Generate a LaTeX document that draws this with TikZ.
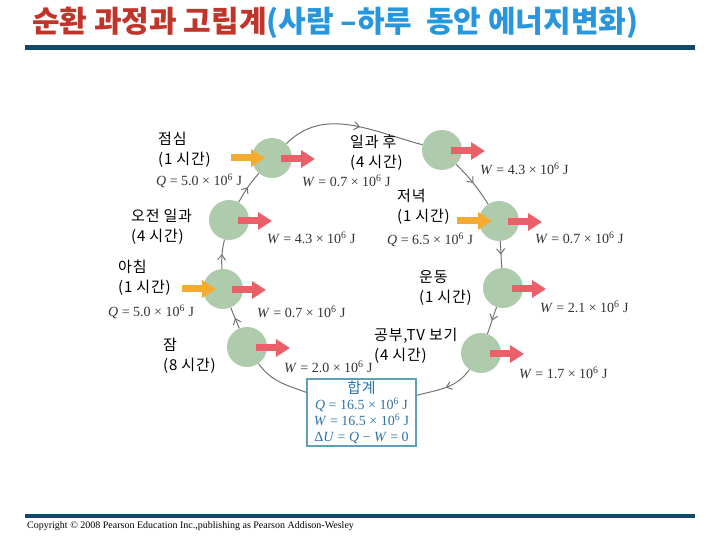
\documentclass[tikz,border=0pt]{standalone}
\usepackage{fontspec}
\setmainfont{Liberation Serif}
\newfontfamily\kr[LetterSpace=5]{Noto Sans CJK KR}
\newfontfamily\krtitle{Noto Sans CJK KR}
\usetikzlibrary{arrows.meta,decorations.markings}
\definecolor{sage}{RGB}{174,204,172}
\definecolor{wred}{RGB}{235,95,105}
\definecolor{qorange}{RGB}{245,170,50}
\definecolor{loopgray}{RGB}{115,115,115}
\definecolor{navyline}{RGB}{18,72,105}
\definecolor{titlered}{RGB}{192,52,42}
\definecolor{titleblue}{RGB}{40,150,220}
\definecolor{sumblue}{RGB}{45,115,170}
\definecolor{sumframe}{RGB}{95,160,185}
\newcommand\energy[2]{\textit{#1} = #2 × 10\textsuperscript{6} J}

\begin{document}
\begin{tikzpicture}[x=1pt,y=1pt,
    state/.style={circle,fill=sage,minimum size=40pt,inner sep=0pt},
    cyc/.style={draw=loopgray,line width=1pt},
    midarrow/.style={postaction={decorate},decoration={markings,
      mark=at position #1 with {\arrow[loopgray]{Straight Barb[length=5pt,width=8pt]}}}},
    midarrow/.default=0.5,
    warr/.style={draw=wred,line width=7pt,-{Triangle[length=14pt,width=17pt]}},
    qarr/.style={draw=qorange,line width=7pt,-{Triangle[length=14pt,width=17pt]}},
    act/.style={anchor=west,align=left,inner sep=0pt,font=\kr\fontsize{15}{20}\selectfont},
    val/.style={anchor=west,inner sep=0pt,text=black!80,font=\fontsize{14}{15}\selectfont}]
    \useasboundingbox (0,0) rectangle (720,540);

    \node[anchor=west,inner sep=0pt,font=\krtitle\bfseries\fontsize{30}{32}\selectfont] (title) at (32,517)
      {\textcolor{titlered}{순환 과정과 고립계}\textcolor{titleblue}{(사람 –하루\ \ 동안 에너지변화)}};
    \draw[navyline,line width=5pt] (25,492.5) -- (695,492.5);
    \draw[navyline,line width=4.5pt] (25,24) -- (695,24);
    \node[anchor=west,inner sep=0pt,font=\fontsize{10}{11}\selectfont] (copy) at (27,14)
      {Copyright © 2008 Pearson Education Inc.,publishing as Pearson Addison-Wesley};

    \node[state] (sleep) at (247,193) {};
    \node[state] (morning) at (223,251) {};
    \node[state] (work) at (229,320) {};
    \node[state] (lunch) at (272,382) {};
    \node[state] (afterwork) at (442,390) {};
    \node[state] (dinner) at (499,319) {};
    \node[state] (exercise) at (503,252) {};
    \node[state] (study) at (481,187) {};

    \node[draw=sumframe,line width=1.2pt,minimum width=109pt,minimum height=67pt,
      inner sep=0pt,align=center,text=sumblue,font=\fontsize{14}{16}\selectfont] (total) at (361.5,127.5)
      {{\kr\fontsize{15}{17}\selectfont 합계}\\ \energy{Q}{16.5}\\ \energy{W}{16.5}\\
       Δ\textit{U} = \textit{Q} − \textit{W} = 0};
    \coordinate (tin) at ([yshift=-17pt]total.north east);
    \coordinate (tout) at ([yshift=-14pt]total.north west);

    \draw[cyc] (tout) to[out=160,in=-55] (sleep);
    \draw[cyc,midarrow] (sleep) -- (morning);
    \draw[cyc,midarrow] (morning) to[bend left=8] (work);
    \draw[cyc,midarrow] (work) to[bend left=6] (lunch);
    \draw[cyc,midarrow=0.55] (lunch) to[out=45,in=165] (afterwork);
    \draw[cyc,midarrow] (afterwork) to[bend left=6] (dinner);
    \draw[cyc,midarrow] (dinner) -- (exercise);
    \draw[cyc,midarrow] (exercise) -- (study);
    \draw[cyc,midarrow] (study) to[out=-125,in=15] (tin);

    \draw[qarr] ([xshift=-41pt]lunch.center) -- ++(34,0);
    \draw[qarr] ([xshift=-41pt]morning.center) -- ++(34,0);
    \draw[qarr] ([xshift=-42pt]dinner.center) -- ++(35,0);
    \foreach \s in {sleep,morning,work,lunch,afterwork,dinner,exercise,study}
      \draw[warr] ([xshift=9pt,yshift=-1pt]\s.center) -- ++(34,0);

    \node[act] (lunchlbl) at (158,390.5) {점심\\(1 시간)};
    \node[act] (afterlbl) at (350,387.5) {일과 후\\(4 시간)};
    \node[act] (worklbl) at (131,313) {오전 일과\\(4 시간)};
    \node[act] (dinnerlbl) at (397,333) {저녁\\(1 시간)};
    \node[act] (morninglbl) at (118,262) {아침\\(1 시간)};
    \node[act] (exerciselbl) at (419,252) {운동\\(1 시간)};
    \node[act] (studylbl) at (374,194) {공부,TV 보기\\(4 시간)};
    \node[act] (sleeplbl) at (163,184) {잠\\(8 시간)};

    \node[val] (lunchq) at (156,359) {\energy{Q}{5.0}};
    \node[val] (lunchw) at (302,359) {\energy{W}{0.7}};
    \node[val] (afterw) at (480,371) {\energy{W}{4.3}};
    \node[val] (workw) at (267,302) {\energy{W}{4.3}};
    \node[val] (dinnerq) at (387,300) {\energy{Q}{6.5}};
    \node[val] (dinnerw) at (535,302) {\energy{W}{0.7}};
    \node[val] (morningq) at (108,228) {\energy{Q}{5.0}};
    \node[val] (morningw) at (257,228) {\energy{W}{0.7}};
    \node[val] (exercisew) at (540,233) {\energy{W}{2.1}};
    \node[val] (sleepw) at (284,173) {\energy{W}{2.0}};
    \node[val] (studyw) at (519,167) {\energy{W}{1.7}};
  \end{tikzpicture}
\end{document}
